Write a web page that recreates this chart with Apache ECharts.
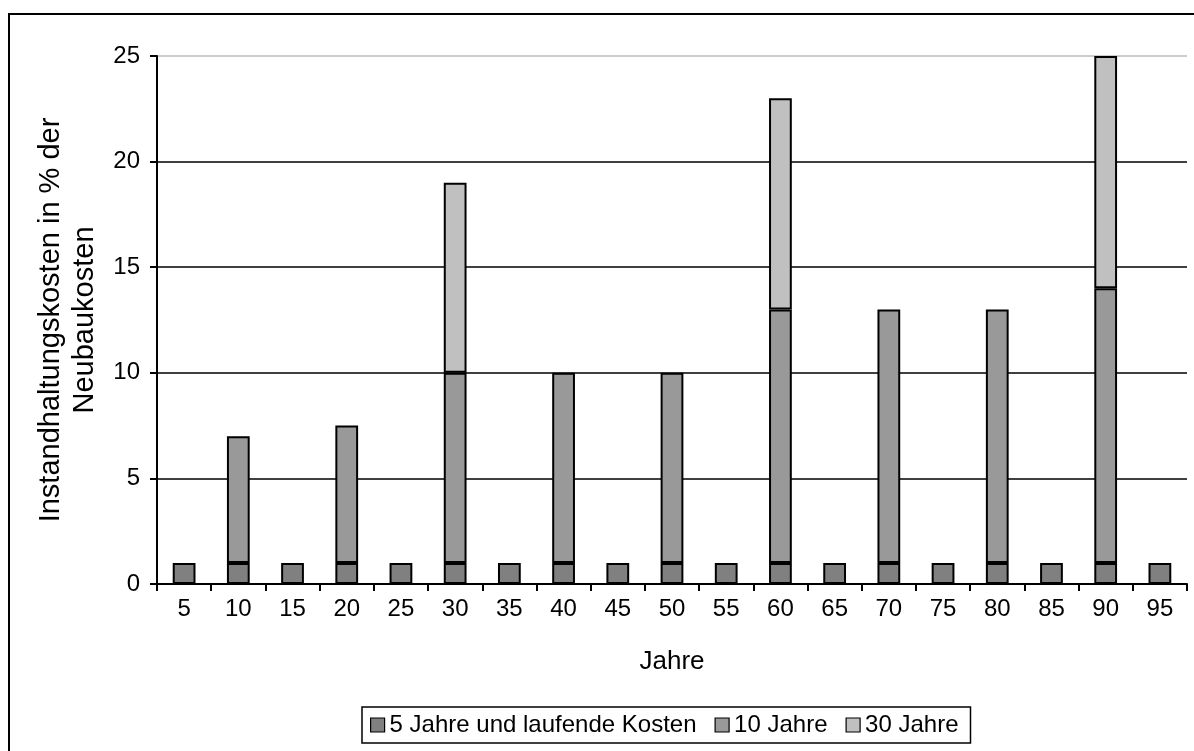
<!DOCTYPE html>
<html>
<head>
<meta charset="utf-8">
<script src="https://cdn.jsdelivr.net/npm/echarts@6/dist/echarts.min.js"></script>
<style>
  html, body { margin: 0; padding: 0; background: #fff; }
  #chart { width: 1194px; height: 751px; }
</style>
</head>
<body>
<div id="chart"></div>
<script>
// Jahre (Kategorien der x-Achse)
const years = ['5', '10', '15', '20', '25', '30', '35', '40', '45', '50',
               '55', '60', '65', '70', '75', '80', '85', '90', '95'];

// Instandhaltungskosten in % der Neubaukosten, gestapelt
const kosten5 = [1, 1, 1, 1, 1, 1, 1, 1, 1, 1, 1, 1, 1, 1, 1, 1, 1, 1, 1];
const kosten10 = [null, 6, null, 6.5, null, 9, null, 9, null, 9,
                  null, 12, null, 12, null, 12, null, 13, null];
const kosten30 = [null, null, null, null, null, 9, null, null, null, null,
                  null, 10, null, null, null, null, null, 11, null];

const seriesNames = ['5 Jahre und laufende Kosten', '10 Jahre', '30 Jahre'];
const yTicks = { min: 0, max: 25, interval: 5 };

const FONT = '"Liberation Sans", Arial, sans-serif';
const chart = echarts.init(document.getElementById('chart'), null, { renderer: 'canvas' });

const barStyle = (color) => ({ color: color, borderColor: '#000', borderWidth: 2 });

chart.setOption({
  backgroundColor: '#fff',
  animation: false,
  textStyle: { fontFamily: FONT, color: '#000' },
  graphic: [{
    type: 'rect',
    shape: { x: 9, y: 14, width: 1300, height: 1000 },
    style: { fill: 'none', stroke: '#000', lineWidth: 2 },
    silent: true
  }],
  grid: { left: 157, right: 7, top: 56, bottom: 167 },
  legend: {
    left: 362, top: 707,
    orient: 'horizontal',
    padding: [6, 12, 6, 8],
    itemWidth: 14, itemHeight: 14, itemGap: 18,
    icon: 'rect',
    borderColor: '#000', borderWidth: 1.5,
    itemStyle: { borderColor: '#000', borderWidth: 1.2 },
    textStyle: { fontFamily: FONT, fontSize: 24, color: '#000' },
    data: seriesNames
  },
  xAxis: {
    type: 'category',
    data: years,
    boundaryGap: true,
    name: 'Jahre',
    nameLocation: 'middle',
    nameGap: 65,
    nameTextStyle: { fontFamily: FONT, fontSize: 26, color: '#000' },
    axisLine: { lineStyle: { color: '#000', width: 2 } },
    axisTick: { show: true, alignWithLabel: false, length: 7, lineStyle: { color: '#000', width: 2 } },
    axisLabel: { fontFamily: FONT, fontSize: 24, color: '#000', margin: 13, interval: 0 }
  },
  yAxis: {
    type: 'value',
    min: yTicks.min, max: yTicks.max, interval: yTicks.interval,
    name: 'Instandhaltungskosten in % der\nNeubaukosten',
    nameLocation: 'middle',
    nameRotate: 90,
    nameGap: 48,
    nameTextStyle: { fontFamily: FONT, fontSize: 29, color: '#000', lineHeight: 34, align: 'center' },
    axisLine: { show: true, lineStyle: { color: '#000', width: 2 } },
    axisTick: { show: true, length: 7, lineStyle: { color: '#000', width: 2 } },
    axisLabel: { fontFamily: FONT, fontSize: 24, color: '#000', margin: 17 },
    splitLine: {
      show: true,
      lineStyle: { color: ['#000', '#000', '#000', '#000', '#000', '#bdbdbd'], width: 1.5 }
    }
  },
  series: [
    { name: seriesNames[0], type: 'bar', stack: 'k', barWidth: '42%', data: kosten5, itemStyle: barStyle('#808080') },
    { name: seriesNames[1], type: 'bar', stack: 'k', barWidth: '42%', data: kosten10, itemStyle: barStyle('#999999') },
    { name: seriesNames[2], type: 'bar', stack: 'k', barWidth: '42%', data: kosten30, itemStyle: barStyle('#c0c0c0') }
  ]
});
</script>
</body>
</html>
